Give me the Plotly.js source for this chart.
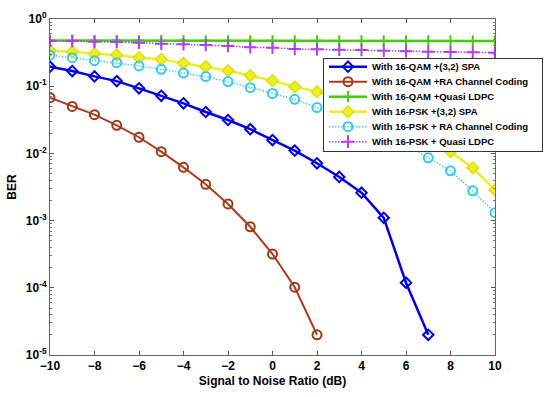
<!DOCTYPE html>
<html>
<head>
<meta charset="utf-8">
<script src="https://cdn.plot.ly/plotly-3.0.1.min.js"></script>
<style>html,body{margin:0;padding:0;background:#fff;}#chart{width:550px;height:397px;}</style>
</head>
<body>
<div id="chart"></div>
<script>
var snr = [-10,-9,-8,-7,-6,-5,-4,-3,-2,-1,0,1,2,3,4,5,6,7,8,9,10];

var qamSPA_x = [-10,-9,-8,-7,-6,-5,-4,-3,-2,-1,0,1,2,3,4,5,6,7];
var qamSPA = [0.195,0.168,0.140,0.119,0.093,0.072,0.0556,0.0413,0.0314,0.0229,0.0158,0.011,0.00713,0.00446,0.0026,0.0011,0.000119,0.00002];

var qamRA_x = [-10,-9,-8,-7,-6,-5,-4,-3,-2,-1,0,1,2];
var qamRA = [0.0674,0.050,0.0377,0.0262,0.0174,0.0106,0.0062,0.00347,0.00177,0.00081,0.000318,0.000102,0.00002];

var qamLDPC = [0.48,0.479,0.478,0.477,0.477,0.476,0.476,0.475,0.475,0.474,0.474,0.473,0.473,0.472,0.472,0.472,0.471,0.471,0.471,0.471,0.470];

var pskSPA = [0.338,0.326,0.305,0.291,0.266,0.251,0.219,0.195,0.170,0.144,0.121,0.098,0.083,0.068,0.053,0.040,0.028,0.018,0.0106,0.0061,0.00285];

var pskRA = [0.291,0.266,0.240,0.224,0.200,0.178,0.157,0.139,0.117,0.095,0.078,0.0638,0.048,0.037,0.028,0.020,0.0135,0.0086,0.0055,0.00277,0.00131];

var pskLDPC = [0.471,0.471,0.459,0.455,0.444,0.430,0.420,0.410,0.397,0.379,0.374,0.358,0.354,0.350,0.346,0.338,0.331,0.326,0.323,0.319,0.315];

var names = ["With 16-QAM +(3,2) SPA","With 16-QAM +RA Channel Coding","With 16-QAM +Quasi LDPC","With 16-PSK +(3,2) SPA","With 16-PSK + RA Channel Coding","With 16-PSK + Quasi LDPC"];

var yTickVals = [1,0.1,0.01,0.001,0.0001,0.00001];
var yTickText = ["10<sup>0</sup>","10<sup>-1</sup>","10<sup>-2</sup>","10<sup>-3</sup>","10<sup>-4</sup>","10<sup>-5</sup>"];
var xTickVals = [-10,-8,-6,-4,-2,0,2,4,6,8,10];

var traces = [
  {x: qamSPA_x, y: qamSPA, name: names[0], mode:'lines+markers',
   line:{color:'#0000e6', width:2.5},
   marker:{symbol:'diamond-open', size:8, color:'#0000e6', line:{width:2, color:'#0000e6'}}},
  {x: qamRA_x, y: qamRA, name: names[1], mode:'lines+markers',
   line:{color:'#b23a1c', width:2},
   marker:{symbol:'circle-open', size:9, color:'#9a3a16', line:{width:2, color:'#9a3a16'}}},
  {x: snr, y: qamLDPC, name: names[2], mode:'lines+markers',
   line:{color:'#44cc11', width:2.5},
   marker:{symbol:'cross-thin-open', size:8, color:'#44cc11', line:{width:2, color:'#44cc11'}}},
  {x: snr, y: pskSPA, name: names[3], mode:'lines+markers',
   line:{color:'#eeee22', width:2.5},
   marker:{symbol:'diamond', size:9, color:'#eeee22', line:{width:1.5, color:'#dddd11'}}},
  {x: snr, y: pskRA, name: names[4], mode:'lines+markers',
   line:{color:'#55ccee', width:1.5, dash:'1.5px,1.5px'},
   marker:{symbol:'circle-open', size:9, color:'#33ccee', line:{width:2, color:'#33ccee'}}},
  {x: snr, y: pskLDPC, name: names[5], mode:'lines+markers',
   line:{color:'#b040ee', width:1.5, dash:'1.5px,1.5px'},
   marker:{symbol:'cross-thin-open', size:9, color:'#b040ee', line:{width:2, color:'#b040ee'}}}
];

var layout = {
  width:550, height:397,
  margin:{l:50, r:55, t:19, b:42},
  paper_bgcolor:'#fff', plot_bgcolor:'#fff',
  font:{family:'"Liberation Sans", Arial, sans-serif', color:'#000'},
  showlegend:true,
  legend:{x:0.6135, y:0.885, xanchor:'left', yanchor:'top',
    bgcolor:'#fff', bordercolor:'#333', borderwidth:1,
    font:{size:9.5, family:'"Liberation Sans", Arial, sans-serif', weight:'bold', color:'#000'},
    tracegroupgap:0, itemwidth:38},
  xaxis:{range:[-10,10], tickvals:xTickVals, ticks:'inside', ticklen:4, tickcolor:'#555',
    showline:true, linecolor:'#666', linewidth:1, mirror:'ticks', showgrid:false, zeroline:false,
    tickfont:{size:12, weight:'bold'},
    title:{text:'Signal to Noise Ratio (dB)', font:{size:12, weight:'bold'}, standoff:4}},
  yaxis:{type:'log', range:[-5,0], tickvals:yTickVals, ticktext:yTickText, ticks:'inside', ticklen:4, tickcolor:'#555',
    showline:true, linecolor:'#666', linewidth:1, mirror:'ticks', showgrid:false, zeroline:false,
    tickfont:{size:12, weight:'bold'},
    minor:{ticks:'inside', ticklen:2, tickcolor:'#777', dtick:'D1', showgrid:false},
    title:{text:'BER', font:{size:12, weight:'bold'}, standoff:6}}
};

function compactLegend(){
  var gd = document.getElementById('chart');
  var items = gd.querySelectorAll('.legend .traces');
  if(!items.length) return;
  var spacing = 15, first = 9;
  var m = /translate\(([-\d.]+),\s*([-\d.]+)\)/.exec(items[0].getAttribute('transform') || '');
  var x0 = m ? parseFloat(m[1]) : 0;
  items.forEach(function(el, i){
    el.setAttribute('transform', 'translate(' + x0 + ',' + (first + i*spacing) + ')');
  });
  var bg = gd.querySelector('.legend .bg');
  if(bg){
    bg.setAttribute('height', first*2 + (items.length-1)*spacing);
    bg.setAttribute('width', 219);
  }
}

Plotly.newPlot('chart', traces, layout, {displayModeBar:false, staticPlot:true}).then(function(gd){
  compactLegend();
  gd.on('plotly_afterplot', compactLegend);
});
</script>
</body>
</html>
